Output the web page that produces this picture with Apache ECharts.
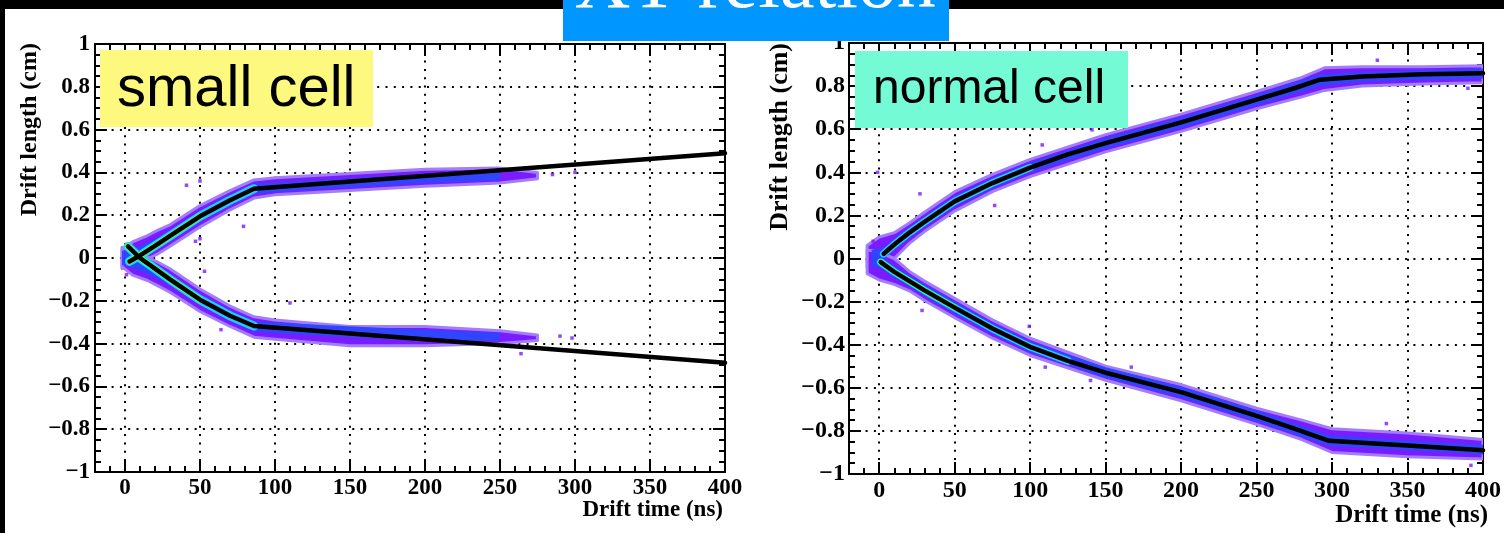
<!DOCTYPE html>
<html>
<head>
<meta charset="utf-8">
<script src="https://cdn.jsdelivr.net/npm/echarts@6/dist/echarts.min.js"></script>
<style>
html, body { margin: 0; padding: 0; background: #000; }
#paper { position: absolute; left: 5px; top: 9px; width: 1499px; height: 524px; background: #fff; }
#myChart { position: absolute; left: 0; top: 0; width: 1504px; height: 533px; }
</style>
</head>
<body>
<div id="paper"></div>
<div id="myChart"></div>
<script>
// small cell: fit lines (drift time ns -> drift length cm)
var smallUpFitT = [3, 10, 20, 30, 50, 70, 86, 400];
var smallUpFitV = [-0.016, 0.012, 0.057, 0.103, 0.195, 0.27, 0.324, 0.49];
var smallLoFitT = [2, 10, 20, 30, 50, 70, 86, 400];
var smallLoFitV = [0.054, 0.0, -0.05, -0.1, -0.195, -0.27, -0.318, -0.49];

// small cell: scatter band edges (outer = purple, core = blue)
var smallBandT = [-2, 5, 15, 22, 30, 50, 70, 86, 100, 150, 200, 250, 275];
var smallUpBandLo = [-0.05, -0.03, -0.005, 0.02, 0.055, 0.145, 0.225, 0.28, 0.295, 0.315, 0.335, 0.35, 0.37];
var smallUpBandHi = [0.04, 0.075, 0.105, 0.13, 0.155, 0.245, 0.315, 0.365, 0.375, 0.395, 0.415, 0.42, 0.40];
var smallLoBandLo = [-0.04, -0.08, -0.105, -0.13, -0.16, -0.25, -0.32, -0.37, -0.38, -0.41, -0.41, -0.40, -0.385];
var smallLoBandHi = [0.05, 0.03, 0.005, -0.02, -0.05, -0.145, -0.225, -0.275, -0.29, -0.32, -0.32, -0.34, -0.36];
var smallCoreT = [-2, 5, 15, 30, 50, 70, 86, 120, 200, 250];
var smallUpCoreLo = [-0.035, -0.01, 0.025, 0.08, 0.17, 0.245, 0.3, 0.318, 0.35, 0.365];
var smallUpCoreHi = [0.025, 0.04, 0.07, 0.125, 0.22, 0.295, 0.348, 0.36, 0.395, 0.405];
var smallLoCoreLo = [-0.025, -0.045, -0.075, -0.125, -0.22, -0.295, -0.345, -0.36, -0.39, -0.385];
var smallLoCoreHi = [0.035, 0.01, -0.025, -0.075, -0.17, -0.245, -0.295, -0.31, -0.335, -0.35];
var smallStray = [[41, 0.34], [50, 0.36], [79, 0.148], [50, 0.09], [47, 0.078], [53, -0.062], [1, -0.078],
    [64, -0.335], [110, -0.21], [298, -0.374], [264, -0.447], [300, 0.40], [285, 0.39], [290, -0.365]];

// normal cell: fit lines
var normalUpFitT = [3, 10, 20, 30, 50, 75, 100, 125, 150, 200, 250, 275, 292, 320, 360, 400];
var normalUpFitV = [0.022, 0.065, 0.12, 0.17, 0.265, 0.35, 0.422, 0.483, 0.535, 0.632, 0.737, 0.79, 0.83, 0.845, 0.855, 0.86];
var normalLoFitT = [1, 10, 20, 30, 50, 75, 100, 125, 150, 200, 250, 275, 298, 350, 400];
var normalLoFitV = [-0.017, -0.062, -0.105, -0.148, -0.228, -0.325, -0.41, -0.475, -0.53, -0.62, -0.73, -0.79, -0.846, -0.868, -0.89];

// normal cell: scatter band edges
var normalUpBandT = [-8, 0, 10, 20, 30, 50, 75, 100, 150, 200, 250, 280, 295, 320, 360, 400];
var normalUpBandLo = [-0.04, -0.03, 0.0, 0.07, 0.125, 0.22, 0.31, 0.38, 0.495, 0.59, 0.695, 0.75, 0.78, 0.8, 0.81, 0.815];
var normalUpBandHi = [0.06, 0.1, 0.12, 0.165, 0.215, 0.31, 0.39, 0.46, 0.575, 0.67, 0.775, 0.84, 0.885, 0.89, 0.89, 0.895];
var normalLoBandT = [-8, 0, 10, 20, 30, 50, 75, 100, 150, 200, 250, 280, 300, 350, 400];
var normalLoBandLo = [-0.07, -0.1, -0.12, -0.15, -0.195, -0.275, -0.37, -0.45, -0.565, -0.66, -0.77, -0.84, -0.9, -0.92, -0.93];
var normalLoBandHi = [0.04, 0.03, 0.0, -0.06, -0.105, -0.185, -0.285, -0.37, -0.5, -0.585, -0.695, -0.75, -0.79, -0.81, -0.84];
var normalUpCoreT = [-5, 3, 10, 20, 30, 50, 75, 100, 150, 200, 250, 292, 320, 360, 400];
var normalUpCoreLo = [-0.02, 0.0, 0.04, 0.095, 0.145, 0.24, 0.325, 0.4, 0.51, 0.605, 0.71, 0.8, 0.82, 0.83, 0.835];
var normalUpCoreHi = [0.04, 0.05, 0.09, 0.145, 0.195, 0.29, 0.375, 0.445, 0.56, 0.655, 0.76, 0.855, 0.865, 0.875, 0.88];
var normalLoCoreT = [-5, 1, 10, 20, 30, 50, 75, 100, 150, 200, 250, 298, 350, 400];
var normalLoCoreLo = [-0.04, -0.045, -0.09, -0.13, -0.175, -0.255, -0.35, -0.435, -0.555, -0.645, -0.755, -0.87, -0.89, -0.91];
var normalLoCoreHi = [0.02, 0.01, -0.035, -0.08, -0.12, -0.2, -0.3, -0.385, -0.505, -0.595, -0.705, -0.82, -0.845, -0.865];
var normalStray = [[-1, 0.4], [27, 0.3], [76.5, 0.246], [108, 0.527], [141, 0.597], [28.4, -0.241], [99.4, -0.315],
    [110, -0.504], [140, -0.566], [167, -0.504], [336, -0.766], [-4, 0.08], [330, 0.92], [390, 0.79], [392, -0.96]];

var PURPLE = '#7a1cff', FRINGE = '#a27eff', BLUE = '#2f45ff', CYAN = '#1ccfff', GREEN = '#3cff84';

var myChart = echarts.init(document.getElementById('myChart'));

function pairs(T, V) {
    var out = [];
    for (var i = 0; i < T.length; i++) out.push([T[i], V[i]]);
    return out;
}

// filled band between lo and hi edges, mapped through the axes
function band(g, T, lo, hi, color, edge, z) {
    var rows = [];
    for (var i = 0; i < T.length; i++) rows.push([T[i], lo[i], hi[i]]);
    return {
        type: 'custom', xAxisIndex: 4 * g, yAxisIndex: 4 * g, z: z, silent: true, clip: true,
        data: rows,
        renderItem: function (params, api) {
            if (params.dataIndex !== 0) return null;
            var top = [], bottom = [];
            for (var k = 0; k < rows.length; k++) {
                top.push(api.coord([rows[k][0], rows[k][2]]));
                bottom.unshift(api.coord([rows[k][0], rows[k][1]]));
            }
            return { type: 'polygon', shape: { points: top.concat(bottom) },
                style: { fill: color, stroke: edge || null, lineWidth: edge ? 3 : 0, lineJoin: 'round' } };
        }
    };
}

function line(g, data, color, width, z) {
    return {
        type: 'line', xAxisIndex: 4 * g, yAxisIndex: 4 * g, z: z, silent: true,
        symbol: 'none', data: data, lineStyle: { color: color, width: width, cap: 'round', join: 'round' }
    };
}

function stray(g, data) {
    return {
        type: 'scatter', xAxisIndex: 4 * g, yAxisIndex: 4 * g, z: 3, silent: true,
        symbol: 'rect', symbolSize: 3.5, itemStyle: { color: PURPLE }, data: data
    };
}

var tickStyle = { color: '#000', width: 2 };
var frameLine = { show: true, onZero: false, lineStyle: { color: '#000', width: 2 } };
var dotted = { show: true, lineStyle: { color: '#000', width: 2, type: [2, 6.3] } };

function makeXAxes(g, fontSize) {
    var base = { gridIndex: g, type: 'value', min: -20, max: 400 };
    return [
        Object.assign({}, base, { position: 'bottom', minInterval: 50, maxInterval: 50, axisLine: frameLine,
            axisTick: { inside: true, length: 12, lineStyle: tickStyle },
            axisLabel: { showMinLabel: false, color: '#000', fontFamily: 'Liberation Serif', fontWeight: 'bold',
                fontSize: fontSize, margin: 5, formatter: function (v) { return String(Math.round(v)); } },
            splitLine: dotted }),
        Object.assign({}, base, { position: 'bottom', interval: 10, axisLine: { show: false, onZero: false },
            axisTick: { inside: true, length: 6, lineStyle: tickStyle }, axisLabel: { show: false }, splitLine: { show: false } }),
        Object.assign({}, base, { position: 'top', minInterval: 50, maxInterval: 50, axisLine: frameLine,
            axisTick: { inside: true, length: 12, lineStyle: tickStyle }, axisLabel: { show: false }, splitLine: { show: false } }),
        Object.assign({}, base, { position: 'top', interval: 10, axisLine: { show: false, onZero: false },
            axisTick: { inside: true, length: 6, lineStyle: tickStyle }, axisLabel: { show: false }, splitLine: { show: false } })
    ];
}

function makeYAxes(g, fontSize, margin) {
    var base = { gridIndex: g, type: 'value', min: -1, max: 1 };
    return [
        Object.assign({}, base, { position: 'left', interval: 0.2, axisLine: frameLine,
            axisTick: { inside: true, length: 12, lineStyle: tickStyle },
            axisLabel: { color: '#000', fontFamily: 'Liberation Serif', fontWeight: 'bold', fontSize: fontSize, margin: margin,
                formatter: function (v) { return String(Math.round(v * 10) / 10).replace('-', '\u2212'); } },
            splitLine: dotted }),
        Object.assign({}, base, { position: 'left', interval: 0.05, axisLine: { show: false, onZero: false },
            axisTick: { inside: true, length: 6, lineStyle: tickStyle }, axisLabel: { show: false }, splitLine: { show: false } }),
        Object.assign({}, base, { position: 'right', interval: 0.2, axisLine: frameLine,
            axisTick: { inside: true, length: 12, lineStyle: tickStyle }, axisLabel: { show: false }, splitLine: { show: false } }),
        Object.assign({}, base, { position: 'right', interval: 0.05, axisLine: { show: false, onZero: false },
            axisTick: { inside: true, length: 6, lineStyle: tickStyle }, axisLabel: { show: false }, splitLine: { show: false } })
    ];
}

function label(x, y, str, font, color, align, rotation) {
    return { type: 'text', x: x, y: y, z: 101, rotation: rotation || 0, silent: true,
        style: { text: str, font: font, fill: color, align: align, verticalAlign: 'middle' } };
}

myChart.setOption({
    backgroundColor: 'transparent',
    animation: false,
    grid: [
        { left: 95, top: 44, width: 630, height: 428 },
        { left: 849, top: 43, width: 641, height: 431 }
    ],
    xAxis: makeXAxes(0, 23).concat(makeXAxes(1, 24)),
    yAxis: makeYAxes(0, 23, 5).concat(makeYAxes(1, 24, 4)),
    series: [
        band(0, smallBandT, smallUpBandLo, smallUpBandHi, PURPLE, FRINGE, 2),
        band(0, smallBandT, smallLoBandLo, smallLoBandHi, PURPLE, FRINGE, 2),
        band(0, smallCoreT, smallUpCoreLo, smallUpCoreHi, BLUE, null, 3),
        band(0, smallCoreT, smallLoCoreLo, smallLoCoreHi, BLUE, null, 3),
        stray(0, smallStray),
        line(0, pairs(smallUpFitT.slice(0, 7), smallUpFitV.slice(0, 7)), CYAN, 9, 4),
        line(0, pairs(smallLoFitT.slice(0, 7), smallLoFitV.slice(0, 7)), CYAN, 9, 4),
        line(0, pairs(smallUpFitT.slice(0, 5), smallUpFitV.slice(0, 5)), GREEN, 6.5, 5),
        line(0, pairs(smallLoFitT.slice(0, 5), smallLoFitV.slice(0, 5)), GREEN, 6.5, 5),
        line(0, pairs(smallUpFitT, smallUpFitV), '#000', 4.5, 10),
        line(0, pairs(smallLoFitT, smallLoFitV), '#000', 4.5, 10),

        band(1, normalUpBandT, normalUpBandLo, normalUpBandHi, PURPLE, FRINGE, 2),
        band(1, normalLoBandT, normalLoBandLo, normalLoBandHi, PURPLE, FRINGE, 2),
        band(1, normalUpCoreT, normalUpCoreLo, normalUpCoreHi, BLUE, null, 3),
        band(1, normalLoCoreT, normalLoCoreLo, normalLoCoreHi, BLUE, null, 3),
        stray(1, normalStray),
        line(1, pairs(normalUpFitT.slice(0, 7), normalUpFitV.slice(0, 7)), CYAN, 7.5, 4),
        line(1, pairs(normalLoFitT.slice(0, 8), normalLoFitV.slice(0, 8)), CYAN, 7.5, 4),
        line(1, pairs(normalLoFitT.slice(0, 5), normalLoFitV.slice(0, 5)), GREEN, 6, 5),
        line(1, pairs(normalUpFitT, normalUpFitV), '#000', 4.5, 10),
        line(1, pairs(normalLoFitT, normalLoFitV), '#000', 4.5, 10)
    ],
    graphic: [
        { type: 'rect', z: 100, silent: true, shape: { x: 563, y: 0, width: 386, height: 41 }, style: { fill: '#0096ff' } },
        label(755, -13.8, 'XT relation', '78px "Liberation Serif"', '#fff', 'center'),
        { type: 'rect', z: 100, silent: true, shape: { x: 100, y: 50, width: 273, height: 77 }, style: { fill: '#fdf97f' } },
        label(117, 90, 'small cell', '58px "Liberation Sans"', '#000', 'left'),
        { type: 'rect', z: 100, silent: true, shape: { x: 855, y: 51, width: 273, height: 77 }, style: { fill: '#74fbd6' } },
        label(873, 90, 'normal cell', '48px "Liberation Sans"', '#000', 'left'),
        label(723, 510, 'Drift time (ns)', 'bold 23px "Liberation Serif"', '#000', 'right'),
        label(1488, 516, 'Drift time (ns)', 'bold 25px "Liberation Serif"', '#000', 'right'),
        label(30, 43, 'Drift length (cm)', 'bold 24px "Liberation Serif"', '#000', 'right', Math.PI / 2),
        label(780, 43, 'Drift length (cm)', 'bold 26px "Liberation Serif"', '#000', 'right', Math.PI / 2)
    ]
});
window.onresize = myChart.resize;
</script>
</body>
</html>
